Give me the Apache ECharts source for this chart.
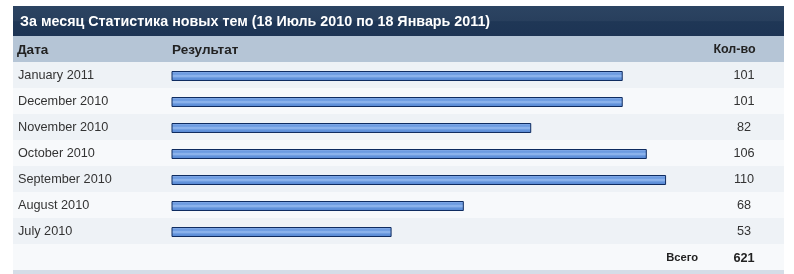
<!DOCTYPE html>
<html>
<head>
<meta charset="utf-8">
<script src="https://cdn.jsdelivr.net/npm/echarts@6/dist/echarts.min.js"></script>
<style>
  html, body { margin: 0; padding: 0; background: #fff; }
  #main { width: 794px; height: 274px; }
</style>
</head>
<body>
<div id="main"></div>
<script>
// данные за месяц
var months = ["January 2011", "December 2010", "November 2010", "October 2010", "September 2010", "August 2010", "July 2010"];
var counts = [101, 101, 82, 106, 110, 68, 53];
var totalCount = 621;
var titleText = "За месяц Статистика новых тем (18 Июль 2010 по 18 Январь 2011)";
var headers = ["Дата", "Результат", "Кол-во"];
var totalLabel = "Всего";

var font = "Liberation Sans, Arial, sans-serif";

var myEcharts = echarts.init(document.getElementById("main"));
var option = {
  animation: false,
  backgroundColor: "#fff",
  grid: [
    // строки таблицы
    { left: 13, right: 10, top: 62, height: 182 },
    // полосы
    { left: 172, right: 92.3, top: 63, height: 182 }
  ],
  xAxis: [
    { gridIndex: 0, type: "value", show: false },
    { gridIndex: 1, type: "value", min: 7.4, max: 117.4, show: false }
  ],
  yAxis: [
    {
      gridIndex: 0,
      type: "category",
      data: months,
      inverse: true,
      axisLine: { show: false },
      axisTick: { show: false },
      splitLine: { show: false },
      splitArea: { show: true, areaStyle: { color: ["#eef2f6", "#f7f9fb"] } },
      axisLabel: { inside: true, margin: 5, padding: [4, 0, 0, 0], color: "#333", fontSize: 12.7, fontFamily: font }
    },
    {
      gridIndex: 0,
      type: "category",
      position: "right",
      data: months,
      inverse: true,
      axisLine: { show: false },
      axisTick: { show: false },
      axisLabel: {
        inside: true,
        margin: 40,
        align: "center",
        padding: [4, 0, 0, 0],
        color: "#333",
        fontSize: 12.7,
        fontFamily: font,
        formatter: function (val, idx) { return String(counts[idx]); }
      }
    },
    { gridIndex: 1, type: "category", data: months, inverse: true, show: false }
  ],
  series: [
    {
      type: "bar",
      xAxisIndex: 1,
      yAxisIndex: 2,
      data: counts,
      barWidth: 10,
      itemStyle: {
        borderColor: "#0f2c60",
        borderWidth: 1,
        color: new echarts.graphic.LinearGradient(0, 0, 0, 1, [
          { offset: 0, color: "#93b5ec" },
          { offset: 0.3, color: "#6596de" },
          { offset: 0.5, color: "#97bbf0" },
          { offset: 0.7, color: "#6394dc" },
          { offset: 1, color: "#5585d0" }
        ])
      }
    }
  ],
  graphic: [
    {
      type: "rect",
      shape: { x: 13, y: 6, width: 771, height: 30 },
      style: {
        fill: new echarts.graphic.LinearGradient(0, 0, 0, 1, [
          { offset: 0, color: "#2c4462" },
          { offset: 0.5, color: "#283f5d" },
          { offset: 0.52, color: "#1f3756" },
          { offset: 1, color: "#1d3454" }
        ])
      }
    },
    {
      type: "text", x: 20, y: 22,
      style: { text: titleText, fill: "#fff", font: "bold 14.3px " + font, textVerticalAlign: "middle" }
    },
    { type: "rect", shape: { x: 13, y: 36, width: 771, height: 26 }, style: { fill: "#b5c5d6" } },
    { type: "text", x: 17, y: 50, style: { text: headers[0], fill: "#222", font: "bold 13.5px " + font, textVerticalAlign: "middle" } },
    { type: "text", x: 172, y: 50, style: { text: headers[1], fill: "#222", font: "bold 13.5px " + font, textVerticalAlign: "middle" } },
    { type: "text", x: 734.5, y: 50, style: { text: headers[2], fill: "#222", font: "bold 12.5px " + font, textAlign: "center", textVerticalAlign: "middle" } },
    { type: "rect", shape: { x: 13, y: 244, width: 771, height: 26 }, style: { fill: "#f7f9fb" } },
    { type: "rect", shape: { x: 13, y: 270, width: 771, height: 4 }, style: { fill: "#d5dde7" } },
    { type: "text", x: 698, y: 258, style: { text: totalLabel, fill: "#222", font: "bold 11.2px " + font, textAlign: "right", textVerticalAlign: "middle" } },
    { type: "text", x: 744, y: 258, style: { text: String(totalCount), fill: "#222", font: "bold 12.7px " + font, textAlign: "center", textVerticalAlign: "middle" } }
  ]
};
myEcharts.setOption(option);
</script>
</body>
</html>
